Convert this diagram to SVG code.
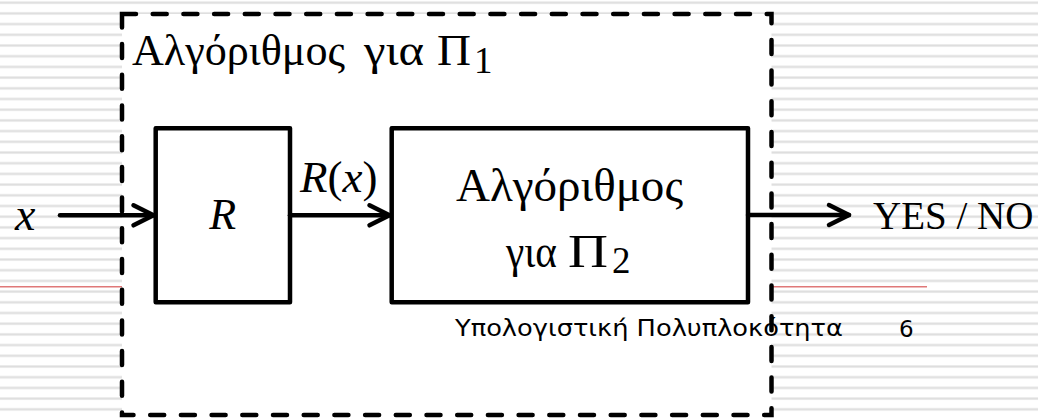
<svg xmlns="http://www.w3.org/2000/svg" width="1038" height="418" viewBox="0 0 1038 418">
<style>
.serif{font-family:"Liberation Serif","DejaVu Serif","Times New Roman",serif;fill:#000}
.it{font-style:italic}
.box{fill:#fff;stroke:#000;stroke-width:4.5;stroke-linejoin:round}
.conn{stroke:#000;stroke-width:4.5;fill:none;stroke-linecap:round}
.foot{font-family:"DejaVu Sans","Liberation Sans",sans-serif;font-size:23px;fill:#000}
</style>
<defs>
<pattern id="stripes" patternUnits="userSpaceOnUse" x="0" y="1.2" width="1038" height="10.7">
<rect x="0" y="0" width="1038" height="3" fill="#ececec"/>
<rect x="0" y="0.9" width="1038" height="1.3" fill="#dedede"/>
</pattern>
<marker id="arr" markerUnits="userSpaceOnUse" viewBox="-25 -15 30 30" markerWidth="30" markerHeight="30" refX="0" refY="0" orient="auto" overflow="visible">
<path d="M-20,-10 L0,0 L-20,10" fill="none" stroke="#000" stroke-width="4.5" stroke-linecap="round" stroke-linejoin="round"/>
</marker>
</defs>
<g id="background">
<rect x="0" y="0" width="1038" height="418" fill="#fff"/>
<rect x="0" y="0" width="1038" height="418" fill="url(#stripes)"/>
<line x1="0" y1="286.7" x2="927" y2="286.7" stroke="#e07878" stroke-width="1.4"/>
</g>
<g id="outer">
<rect x="122" y="14" width="649.5" height="401" fill="#fff"/>
<text class="serif" y="65" font-size="44"><tspan x="132" textLength="213" lengthAdjust="spacingAndGlyphs">Αλγόριθμος</tspan><tspan x="364" textLength="60" lengthAdjust="spacingAndGlyphs">για</tspan><tspan x="437" textLength="34" lengthAdjust="spacingAndGlyphs">Π</tspan><tspan x="474" font-size="37" dy="8">1</tspan></text>
</g>
<g id="footer">
<text class="foot" x="455" y="336" textLength="388" lengthAdjust="spacingAndGlyphs">Υπολογιστική Πολυπλοκότητα</text>
<text class="foot" x="899" y="337">6</text>
</g>
<g id="outer-border">
<rect x="122" y="14" width="649.5" height="401" fill="none" stroke="#000" stroke-width="4.5" stroke-dasharray="14 16.7" stroke-linecap="round"/>
</g>
<g id="node-R">
<rect class="box" x="155.7" y="128.3" width="134.3" height="174"/>
<text class="serif it" x="222.8" y="229" font-size="44" text-anchor="middle">R</text>
</g>
<g id="node-alg2">
<rect class="box" x="391.7" y="128.3" width="356.3" height="174"/>
<text class="serif" x="456" y="201" font-size="46" textLength="227" lengthAdjust="spacingAndGlyphs">Αλγόριθμος</text>
<text class="serif" y="267" font-size="46"><tspan x="506" textLength="51" lengthAdjust="spacingAndGlyphs">για</tspan><tspan x="568" textLength="40" lengthAdjust="spacingAndGlyphs">Π</tspan><tspan x="612" font-size="37" dy="6">2</tspan></text>
</g>
<g id="connectors">
<line class="conn" x1="60" y1="215.3" x2="153.5" y2="215.3" marker-end="url(#arr)"/>
<line class="conn" x1="290" y1="215.3" x2="389.5" y2="215.3" marker-end="url(#arr)"/>
<line class="conn" x1="748" y1="215" x2="849" y2="215" marker-end="url(#arr)"/>
</g>
<g id="labels">
<text class="serif it" x="15" y="230" font-size="46">x</text>
<text class="serif" x="300" y="192" font-size="45"><tspan class="it">R</tspan>(<tspan class="it">x</tspan>)</text>
<text class="serif" x="873" y="229" font-size="39">YES / NO</text>
</g>
</svg>
